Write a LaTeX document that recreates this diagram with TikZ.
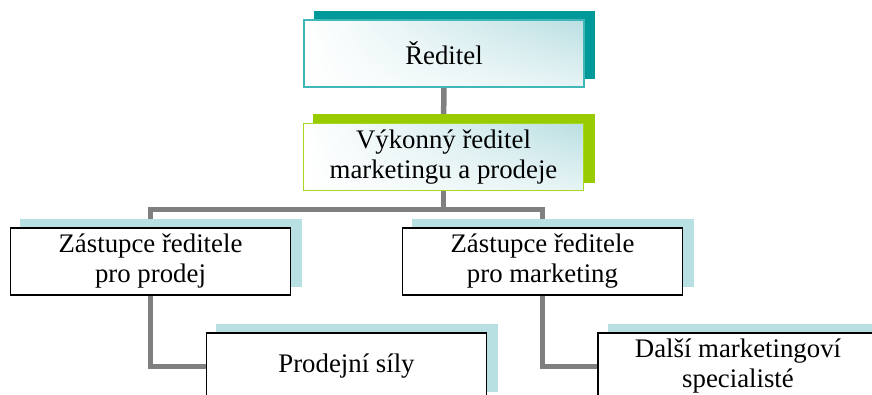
\documentclass[tikz,border=0pt]{standalone}
\usepackage{fontspec}
\setmainfont{Liberation Serif}
\usetikzlibrary{shadings}

\definecolor{tealdark}{HTML}{009999}
\definecolor{tealedge}{HTML}{40B8B8}
\definecolor{tealtint}{HTML}{BADFE2}
\definecolor{limedark}{HTML}{99CC00}
\definecolor{limeedge}{HTML}{A6D81E}
\definecolor{iceshadow}{HTML}{B8DFE2}
\definecolor{linkgray}{HTML}{808080}

\pgfdeclarelayer{links}
\pgfdeclarelayer{shadows}
\pgfsetlayers{links,shadows,main}

\tikzset{
  box/.style={minimum width=280pt, minimum height=67pt, inner sep=0pt,
    align=center, font=\fontsize{26.8}{30}\selectfont},
  tintbox/.style={box, line width=1.3pt, shade,
    upper left=white, lower left=white,
    upper right=tealtint, lower right=tealtint!35},
  plainbox/.style={box, draw=black, fill=white, line width=1.4pt},
  link/.style={draw=linkgray, line width=5.5pt, line join=miter},
}

\begin{document}
\begin{tikzpicture}[x=1pt,y=1pt]
\useasboundingbox (0,0) rectangle (872,394);

% boxes of the chart
\node[tintbox, draw=tealedge] (b1) at (444,340.5) {Ředitel};
\node[tintbox, draw=limeedge] (b2) at (443.5,237) {Výkonný ředitel\\marketingu a prodeje};
\node[plainbox] (b3) at (150.5,132.5) {Zástupce ředitele\\pro prodej};
\node[plainbox] (b4) at (542.5,132.5) {Zástupce ředitele\\pro marketing};
\node[plainbox] (b5) at (346.5,27.5) {Prodejní síly};
\node[plainbox] (b6) at (738,27.5) {Další marketingoví\\specialisté};

% offset shadows behind each box
\begin{pgfonlayer}{shadows}
  \foreach \n/\c in {b1/tealdark, b2/limedark, b3/iceshadow,
                     b4/iceshadow, b5/iceshadow, b6/iceshadow}
    \fill[\c] ([shift={(10.5,8.5)}]\n.south west)
          rectangle ([shift={(10.5,8.5)}]\n.north east);
\end{pgfonlayer}

% gray connectors
\begin{pgfonlayer}{links}
  \coordinate (bus) at (443.5,184.5);
  \draw[link] (b1.south) -- (b2.north);
  \draw[link] (b2.south) -- (bus);
  \draw[link] (b3.north) |- (bus) -| (b4.north);
  \draw[link] (b3.south) |- (b5.west);
  \draw[link] (b4.south) |- (b6.west);
\end{pgfonlayer}
\end{tikzpicture}
\end{document}
